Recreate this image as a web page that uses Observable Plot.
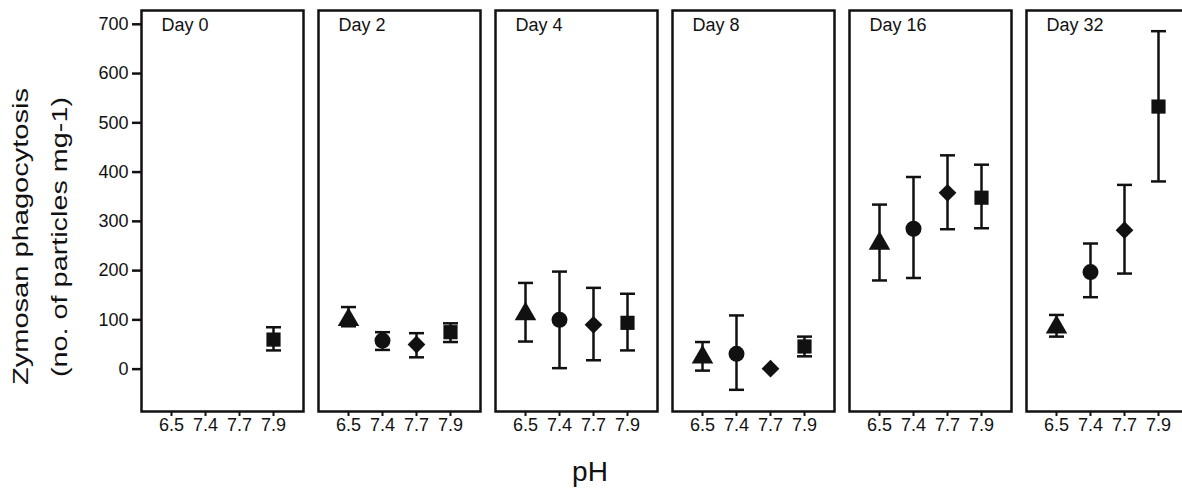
<!DOCTYPE html>
<html>
<head>
<meta charset="utf-8">
<script src="https://cdn.jsdelivr.net/npm/d3@7"></script>
<script src="https://cdn.jsdelivr.net/npm/@observablehq/plot@0.6"></script>
<style>
  html, body { margin: 0; padding: 0; background: #fff; overflow: hidden; }
  #wrap { position: relative; width: 1190px; height: 491px; }
  #overlay { position: absolute; left: 0; top: 0; pointer-events: none; }
  #wrap svg.chart text { font-size: 18px !important; font-family: 'Liberation Sans', Arial, sans-serif !important; }
</style>
</head>
<body>
<div id="wrap"></div>
<script>
// ---- data ----
const dayLabels = ["Day 0", "Day 2", "Day 4", "Day 8", "Day 16", "Day 32"];
const phLevels = ["6.5", "7.4", "7.7", "7.9"];
const phSymbols = ["triangle", "circle", "diamond2", "square"];
const yTicks = [0, 100, 200, 300, 400, 500, 600, 700];
const meanByDay = [
  [null, null, null, 60],
  [100, 58, 50, 75],
  [112, 100, 90, 94],
  [24, 31, 1, 46],
  [255, 285, 358, 348],
  [85, 197, 282, 533]
];
const lowerByDay = [
  [null, null, null, 38],
  [87, 39, 24, 55],
  [56, 2, 18, 38],
  [-3, -42, null, 26],
  [180, 185, 284, 286],
  [66, 146, 194, 381]
];
const upperByDay = [
  [null, null, null, 85],
  [126, 75, 73, 93],
  [175, 198, 165, 153],
  [55, 109, null, 66],
  [334, 390, 434, 415],
  [110, 255, 374, 686]
];

const rows = [];
dayLabels.forEach((day, i) => {
  phLevels.forEach((ph, j) => {
    if (meanByDay[i][j] == null) return;
    rows.push({day, ph, mean: meanByDay[i][j], lo: lowerByDay[i][j], hi: upperByDay[i][j]});
  });
});
const bars = rows.filter(d => d.lo != null && d.hi != null);

const capSymbol = {
  draw(context, size) {
    const h = Math.sqrt(size / Math.PI);
    context.moveTo(-h, 0);
    context.lineTo(h, 0);
  }
};

const font = "'Liberation Sans', Arial, Helvetica, sans-serif";

const chart = Plot.plot({
  width: 1190,
  height: 445,
  marginLeft: 141,
  marginRight: 2,
  marginTop: 10,
  marginBottom: 34,
  className: "chart",
  style: {fontFamily: font, fontSize: "18px", color: "#111", background: "white"},
  fx: {domain: dayLabels, axis: null, paddingInner: 0.085, paddingOuter: 0},
  x: {domain: phLevels, type: "point", padding: 0.83},
  y: {domain: [-86, 728]},
  symbol: {domain: phLevels, range: phSymbols},
  marks: [
    Plot.axisX({tickSize: 5, tickPadding: 2, strokeWidth: 2, label: null, fontSize: 18}),
    Plot.axisY({ticks: yTicks, tickSize: 9, tickPadding: 4, strokeWidth: 2.5, label: null, fontSize: 18}),
    Plot.frame({strokeWidth: 2.5, stroke: "#111"}),
    Plot.ruleX(bars, {fx: "day", x: "ph", y1: "lo", y2: "hi", strokeWidth: 2.5, stroke: "#111"}),
    Plot.dot(bars, {fx: "day", x: "ph", y: "lo", symbol: capSymbol, r: 7.5, fill: "none", stroke: "#111", strokeWidth: 2.5}),
    Plot.dot(bars, {fx: "day", x: "ph", y: "hi", symbol: capSymbol, r: 7.5, fill: "none", stroke: "#111", strokeWidth: 2.5}),
    Plot.dot(rows, {fx: "day", x: "ph", y: "mean", symbol: "ph", fill: "#111", stroke: "none", r: 8}),
    Plot.text(dayLabels, {fx: d => d, text: d => d, frameAnchor: "top-left", textAnchor: "start", lineAnchor: "top", dx: 20, dy: 8, fontSize: 18, fill: "#111"})
  ]
});

chart.classList.add("chart");
d3.select(chart).selectAll("text").attr("font-size", 18).style("font-size", "18px");

const wrap = document.getElementById("wrap");
wrap.appendChild(chart);

// axis titles
const ns = "http://www.w3.org/2000/svg";
const ov = document.createElementNS(ns, "svg");
ov.setAttribute("id", "overlay");
ov.setAttribute("width", 1190);
ov.setAttribute("height", 491);
ov.style.fontFamily = font;
function addText(str, x, y, size, rotate, len) {
  const t = document.createElementNS(ns, "text");
  t.textContent = str;
  t.setAttribute("text-anchor", "middle");
  t.setAttribute("font-size", size);
  t.setAttribute("fill", "#111");
  t.setAttribute("transform", `translate(${x},${y})` + (rotate ? ` rotate(${rotate})` : ""));
  if (len) { t.setAttribute("textLength", len); t.setAttribute("lengthAdjust", "spacingAndGlyphs"); }
  ov.appendChild(t);
}
addText("Zymosan phagocytosis", 28, 236.5, 22, -90, 297);
addText("(no. of particles mg-1)", 66.5, 237, 22, -90, 280);
addText("pH", 590, 481, 28, 0, null);
wrap.appendChild(ov);
</script>
</body>
</html>
